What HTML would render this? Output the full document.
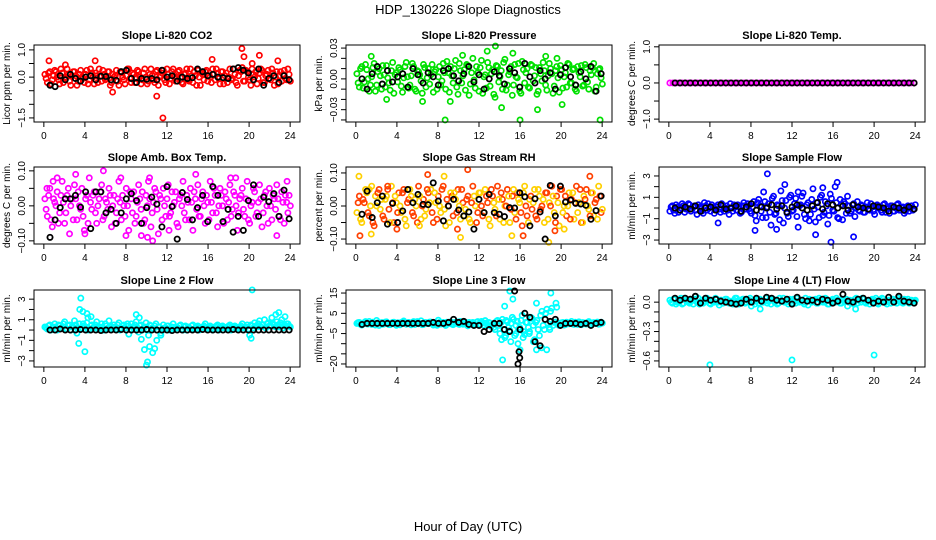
<!DOCTYPE html>
<html><head><meta charset="utf-8">
<style>
html,body{margin:0;padding:0;background:#fff;}
svg{display:block;font-family:"Liberation Sans",Arial,sans-serif;}
</style></head>
<body>
<svg id="chart" width="936" height="540" viewBox="0 0 936 540" xmlns="http://www.w3.org/2000/svg">
<text x="468" y="14" text-anchor="middle" font-size="13">HDP_130226  Slope Diagnostics</text>
<text x="468" y="531" text-anchor="middle" font-size="13">Hour of Day (UTC)</text>
</svg>
<script>
// ---------- data ----------
const co2Band=[0.1,-0.2,0.2,-0.1,0.25,0,-0.25,0.15,-0.05,0.3,-0.15,0.05,0.2,-0.3,0.1,0,-0.2,0.25,-0.1,0.15,-0.25,0.05,0.3,-0.15,0.1,-0.05,0.2,-0.2,0,0.25,-0.3,0.15,-0.1,0.05,0.3,-0.2,0.1,-0.05,0.2,-0.25,0.15,0,-0.15,0.3,-0.1,0.2,-0.3,0.05,0.25,-0.2,0.1,-0.05,0.3,-0.15,0.2,0,-0.25,0.15,-0.1,0.3,-0.2,0.05,0.25,-0.3,0.1,0.2,-0.15,0,0.3,-0.1,0.15,-0.25,0.2,0.05,-0.2,0.3,-0.05,0.1,-0.3,0.25,0.35,-0.15,0.2,-0.1,0.3,0,-0.25,0.15,0.25,-0.2,0.1,-0.05,0.3,-0.3,0.2,0.05,-0.15,0.25,-0.1,0.1];
const co2Band2=[-0.05,0.15,-0.25,0.05,0.2,-0.1,0.3,-0.2,0,0.1,-0.3,0.2,0.05,-0.15,0.25,-0.05,0.1,-0.25,0.3,0,0.15,-0.2,0.05,0.25,-0.1,0.2,-0.3,0.1,0.05,-0.15,0.2,0,-0.25,0.3,-0.05,0.15,-0.2,0.25,0,-0.1,0.3,-0.25,0.1,0.05,-0.2,0.25,0,0.15,-0.1,0.3,-0.25,0.2,0,-0.05,0.25,-0.2,0.1,0.3,-0.15,0.05,0.2,-0.3,0,0.15,-0.1,0.25,0.05,-0.2,0.1,0.3,-0.05,0.2,-0.25,0.15,0,-0.1,0.3,-0.2,0.05,0.2,-0.15,0.25,0,-0.3,0.1,0.2,-0.05,0.3,-0.2,0.05,0.25,-0.1,0.15,0,-0.25,0.2,0.1,-0.05,0.3,-0.15];
const co2OutHours=[0.5,5,11,11.6,16.4,19.3,19.5,21,22.8,6.7,2.1,20.3];
const co2OutValues=[0.6,0.6,-0.7,-1.5,0.65,1.05,0.75,0.8,0.6,-0.55,0.45,0.5];
const co2Black=[-0.3,-0.35,0.05,-0.1,0.1,-0.05,-0.15,0,0.05,-0.1,0.03,0.02,-0.1,-0.12,0.2,0.25,-0.05,-0.2,-0.05,-0.08,-0.05,-0.1,0.25,0,0.05,-0.15,0,-0.05,-0.02,0.3,0.2,0.05,0.1,0,-0.02,-0.05,0.3,0.35,0.25,0.15,-0.1,0.3,-0.3,-0.05,0.05,-0.2,0.05,-0.1];

const presBand=[0.005,-0.008,0.012,-0.003,0.009,-0.012,0.002,0.015,-0.006,0.01,-0.01,0.004,0.013,-0.004,0.008,-0.014,0.006,0.011,-0.007,0.001,0.016,-0.009,0.003,0.012,-0.012,0.007,-0.002,0.014,-0.008,0.01,0.004,-0.013,0.009,0.002,-0.006,0.015,-0.01,0.006,0.012,-0.004,0.018,-0.015,0.008,0.003,-0.011,0.013,-0.005,0.02,-0.009,0.006,0.011,-0.014,0.004,0.016,-0.007,0.009,-0.018,0.012,0.002,-0.01,0.019,-0.006,0.007,-0.016,0.014,0.001,-0.012,0.017,-0.004,0.01,-0.009,0.013,0.003,-0.015,0.011,-0.002,0.008,-0.011,0.015,0.005,-0.007,0.012,-0.013,0.009,0.002,-0.008,0.014,-0.004,0.01,-0.012,0.006,0.013,-0.006,0.011,-0.01,0.004,0.015,-0.008,0.009,0.001];
const presBand2=[-0.004,0.01,-0.009,0.014,0,-0.006,0.011,-0.012,0.007,0.003,0.013,-0.008,0.001,-0.011,0.016,0.004,-0.003,0.009,-0.013,0.012,0.002,-0.006,0.015,-0.01,0.008,0.004,-0.014,0.011,0.001,-0.005,0.014,0.007,-0.01,0.012,-0.002,0.006,0.017,-0.013,0.003,0.01,-0.008,0.015,-0.004,0.009,0.014,-0.016,0.006,-0.001,0.012,-0.012,0.018,0.002,-0.009,0.011,0.005,-0.015,0.013,-0.003,0.008,0.016,-0.011,0.004,0.012,-0.006,0.002,0.015,-0.014,0.009,0.006,-0.008,0.014,-0.002,0.011,-0.012,0.005,0.016,-0.006,0.003,0.01,-0.014,0.008,0.001,0.013,-0.009,0.006,0.015,-0.004,0.009,-0.01,0.012,0.002,-0.007,0.014,-0.003,0.008,0.011,-0.012,0.005,0.01,-0.005];
const presOutHours=[1.5,3,8.7,9.2,12.8,13.6,14.2,15.3,16,17.7,18.5,19.6,20.1,23.8,10.4,6.5];
const presOutValues=[0.022,-0.02,-0.04,-0.022,0.027,0.032,-0.028,0.025,-0.04,-0.03,0.022,0.02,-0.025,-0.04,0.023,-0.022];
const presBlack=[0,-0.01,0.005,0.012,-0.005,0.008,-0.003,0.002,0.005,-0.008,0.01,0.004,-0.004,0.006,0.002,-0.006,0.008,0.01,0.003,-0.002,0.005,0.012,-0.003,0.004,-0.01,0,0.007,0.003,-0.005,0.01,0.006,-0.008,0.015,0.002,-0.004,0.008,0,0.006,-0.01,0.004,0.011,0.002,-0.006,0.007,0,0.012,-0.012,0.005];

const tempBand=[0,0,0,0,0,0,0,0,0,0,0,0,0,0,0,0,0,0,0,0,0,0,0,0,0,0,0,0,0,0,0,0,0,0,0,0,0,0,0,0,0,0,0,0,0,0,0,0,0,0,0,0,0,0,0,0,0,0,0,0,0,0,0,0,0,0,0,0,0,0,0,0,0,0,0,0,0,0,0,0];
const tempBand2=[];
const tempOutHours=[];
const tempOutValues=[];
const tempBlack=[0,0,0,0,0,0,0,0,0,0,0,0,0,0,0,0,0,0,0,0,0,0,0,0,0,0,0,0,0,0,0,0,0,0,0,0,0,0,0,0,0,0,0,0,0,0,0,0];

const ambBand=[0.02,-0.03,0.05,-0.06,0.01,0.04,-0.02,0.07,-0.05,0.03,-0.08,0.02,0.06,-0.04,0.0,0.05,-0.07,0.03,0.08,-0.01,0.04,-0.05,0.02,0.06,-0.03,0.01,0.05,-0.06,0.03,-0.02,0.07,-0.04,0.0,0.05,-0.07,0.02,0.04,-0.03,0.06,-0.01,-0.05,0.03,0.07,-0.06,0.01,0.04,-0.08,0.02,0.05,-0.03,0.06,-0.02,0.0,0.04,-0.06,0.03,0.07,-0.04,0.01,0.05,-0.07,0.02,0.06,-0.03,0.04,-0.05,0.01,0.07,-0.02,0.03,-0.06,0.05,0.0,0.04,-0.04,0.06,-0.01,0.03,-0.07,0.02,0.05,-0.03,0.07,-0.05,0.01,0.04,-0.02,0.06,-0.06,0.03,0.0,0.05,-0.04,0.02,0.06,-0.03,0.04,-0.05,0.01,0.03];
const ambBand2=[-0.01,0.03,-0.04,0.02,0.0,-0.05,0.03,0.01,-0.02,0.05,0.0,-0.04,0.02,0.04,-0.01,-0.03,0.02,-0.05,0.01,0.03,-0.02,0.0,0.04,-0.04,0.02,-0.01,0.03,0.0,-0.05,0.02,0.01,0.03,-0.03,0.0,0.04,-0.02,-0.05,0.01,0.02,0.04,-0.04,0.0,0.02,-0.02,0.05,-0.01,0.03,-0.04,0.0,0.02,-0.03,0.04,0.01,-0.05,0.02,0.0,-0.02,0.03,-0.04,0.01,0.04,-0.01,-0.03,0.02,0.0,0.03,-0.04,0.01,0.05,-0.02,0.0,0.03,-0.05,0.02,0.01,-0.03,0.04,0.0,-0.02,0.03,-0.01,0.02,-0.04,0.0,0.05,-0.03,0.01,0.02,-0.02,0.04,-0.05,0.0,0.03,-0.01,0.02,-0.04,0.01,0.03,-0.02,0.0];
const ambOutHours=[0.3,1.3,3.1,5.8,7.5,8,9.5,10.3,10.6,12.2,14.8,18.7,22.7,0.9,4,10.1,18.2,23.7];
const ambOutValues=[0.05,0.08,0.09,0.1,0.08,-0.085,-0.085,0.08,-0.1,-0.07,0.09,0.08,-0.085,0.07,-0.08,-0.09,0.08,0.07];
const ambBlack=[-0.09,-0.04,-0.005,0.02,0.02,0.03,-0.004,0.04,-0.065,0.04,0.04,-0.02,-0.01,-0.05,-0.02,0.02,0.035,0.015,-0.05,-0.005,0.025,0.005,-0.06,0.055,-0.002,-0.095,0.038,0.018,-0.04,-0.005,0.03,-0.045,0.055,0.03,-0.045,-0.01,-0.075,-0.03,-0.07,0.015,0.06,-0.03,0.025,0.012,0.035,-0.03,0.045,-0.037];

const rhBand=[-0.02,0.03,-0.05,0.01,0.04,-0.03,0.06,-0.06,0.0,0.05,0.02,-0.04,0.03,-0.01,0.06,-0.05,0.01,0.04,-0.02,0.05,-0.06,0.02,0.03,-0.03,0.0,0.06,-0.04,0.02,-0.01,0.04,0.05,-0.05,0.01,0.03,-0.02,0.06,-0.06,0.0,0.04,-0.03,0.02,0.05,-0.04,0.01,-0.01,0.03,-0.05,0.06,0.0,-0.02,0.04,-0.03,0.05,0.01,-0.06,0.03,-0.01,0.06,-0.04,0.02,0.0,0.05,-0.05,0.03,-0.02,0.04,0.01,-0.06,0.06,-0.03,0.02,-0.01,0.05,-0.04,0.03,0.0,-0.05,0.04,0.01,0.06,-0.02,0.03,-0.06,0.05,0.0,-0.03,0.04,0.02,-0.04,0.06,0.01,-0.05,0.03,0.05,-0.01,0.04,-0.03,0.02,0.06,-0.02];
const rhBand2=[0.01,-0.04,0.02,0.05,-0.02,0.0,-0.05,0.03,0.04,-0.01,-0.03,0.02,0.05,-0.05,0.01,0.03,-0.02,0.0,0.04,-0.04,0.01,0.05,-0.02,0.02,-0.05,0.03,0.0,-0.03,0.05,0.01,-0.02,0.04,-0.04,0.0,0.05,-0.01,0.02,-0.05,0.03,0.04,-0.02,0.0,0.05,-0.03,0.02,-0.04,0.01,0.03,-0.05,0.04,0.0,-0.02,0.03,-0.04,0.05,0.01,-0.03,0.02,0.04,-0.05,0.0,0.03,-0.01,0.05,-0.04,0.02,-0.02,0.04,0.0,-0.05,0.03,0.01,-0.03,0.05,-0.01,0.02,0.04,-0.04,0.0,0.03,-0.05,0.01,0.05,-0.02,0.03,0.0,-0.04,0.04,0.01,-0.02,0.05,-0.05,0.02,0.0,-0.03,0.04,0.01,-0.04,0.03,-0.01];
const rhOutHours=[0.3,0.4,1.5,7,8.6,9.9,10.2,10.9,15.2,16.3,18.8,19.4,20.3,22.8,1.3,4,6.2,3.1];
const rhOutValues=[0.09,-0.09,-0.085,0.095,0.09,-0.07,-0.095,0.11,-0.09,-0.09,-0.11,-0.075,-0.07,0.09,0.05,-0.07,-0.06,0.06];
const rhBlack=[-0.025,0.045,-0.035,0.01,0.03,-0.055,0.008,-0.05,-0.015,0.05,0.01,0.035,0.005,0.004,0.07,0.015,-0.045,0,0.02,-0.012,-0.03,-0.018,-0.07,0.02,-0.02,0.035,-0.02,-0.025,-0.032,-0.005,-0.006,0.04,0.028,-0.06,0.022,-0.018,-0.1,0.062,-0.03,0.06,0.012,0.018,0.008,0.006,0.002,-0.04,-0.014,0.03];

const sfBand=[-0.3,0.2,-0.5,0.1,-0.2,0.4,-0.4,0,0.3,-0.1,0.2,-0.6,0.1,-0.3,0.5,-0.2,0,0.3,-0.5,0.1,-0.1,0.4,-0.3,0.2,-0.6,0,0.3,-0.2,0.1,-0.4,0.5,-0.1,0.2,-0.5,0.6,-1.2,0.8,-0.3,1.5,-0.9,0.4,-1.6,1.1,-0.5,0.2,1.6,-1.4,0.7,-0.8,1.2,-0.2,0.9,-1.8,0.3,1.4,-1,0.5,-0.6,1.8,-1.3,0.1,1,-0.7,0.6,-1.5,1.3,-0.2,2,-0.9,0.8,-1.1,0.4,1.1,-0.5,0.3,-0.8,0.6,-0.3,0.2,-0.4,0.5,-0.2,0.1,-0.6,0.3,0,-0.4,0.4,-0.1,-0.5,0.2,-0.3,0.3,-0.2,0,-0.5,0.1,-0.3,0.2,-0.1];
const sfBand2=[0.1,-0.2,0.3,-0.4,0,0.2,-0.1,0.4,-0.3,0.1,-0.2,0.3,0,-0.5,0.2,0.4,-0.3,0.1,-0.1,0.3,-0.4,0.2,0,-0.2,0.4,-0.3,0.1,0.3,-0.5,0.2,-0.1,0.4,-0.3,0.1,-0.7,0.5,0.2,-0.9,0.6,0.1,-0.4,0.9,-0.6,0.3,-1.1,0.7,0,-0.5,1,-0.3,0.4,-0.8,0.2,1.1,-0.6,0.3,-1.2,0.8,-0.1,0.5,-0.9,1.2,-0.4,0.2,-0.7,0.9,-0.3,0.5,-1,0.3,0.6,-0.5,0.2,-0.3,0.4,0,-0.2,0.3,-0.4,0.1,-0.1,0.4,-0.3,0.2,0,-0.2,0.3,-0.4,0.1,0.2,-0.3,0,0.4,-0.2,0.1,-0.3,0.2,0,-0.2,0.3];
const sfOutHours=[9.6,10.5,11.3,15,15.8,16.4,14.3,12.6,18,4.8,8.4];
const sfOutValues=[3.2,-2,2.2,1.9,-3.2,2.4,-2.5,1.5,-2.7,-1.4,-2.1];
const sfBlack=[0,-0.2,0.1,-0.1,0.2,-0.3,0,0.1,-0.2,0.3,-0.1,0,0.2,-0.3,0.1,0.4,-0.2,0.1,0,0.3,-0.1,0.2,-0.4,0.1,0.3,0,-0.2,0.2,0.5,-0.1,0.4,0.3,0,0.2,-0.2,0.3,0.1,0,-0.1,0.2,0.1,0,-0.3,0.1,0,-0.2,0.1,-0.1];

const l2Band=[0.3,0.1,0.5,0.2,0.6,0,0.4,0.2,0.8,0.1,0.5,0.3,0.9,-0.3,0.6,0.2,0.4,0.7,0.1,0.5,0.3,0.8,0.2,0.6,0,0.4,0.9,0.3,0.5,0.1,0.7,0.2,0.5,0.4,-0.4,0.6,0.3,0.8,-0.2,0.5,0.2,0.7,-0.5,0.4,0.1,0.6,0.3,-0.3,0.5,0.2,0.4,0.1,0.6,0.3,0.2,0.5,0,0.4,0.3,0.1,0.5,0.2,0.4,0.1,0.3,0.6,0.2,0.4,0,0.3,0.5,0.1,0.4,0.2,0.3,0.5,0.1,0.4,0.2,0.3,0.6,0.2,0.5,-0.5,0.4,0.7,0.3,0.9,0.5,1,0.6,0.4,1.2,0.5,0.8,0.3,1,0.5,0.6,0.4];
const l2Band2=[0.2,0.4,0,0.3,0.1,0.5,0.2,0.6,0.1,0.4,0,0.3,0.5,0.2,0.1,0.6,0.3,0,0.4,0.2,0.5,0.1,0.3,0,0.6,0.2,0.4,0.1,0.3,0.5,0,0.4,0.2,0.6,0.1,0.3,0.5,0.2,0.4,0,0.3,0.1,0.5,0.2,0.4,0,0.3,0.1,0.2,0.4,0,0.3,0.1,0.2,0.4,0.1,0.3,0,0.2,0.4,0.1,0.3,0,0.2,0.4,0.1,0.3,0.2,0.1,0.4,0,0.2,0.3,0.1,0.4,0,0.2,0.3,0.1,0.4,0.2,0.3,0.1,0.5,0.2,0.4,0.6,0.3,0.5,0.2,0.7,0.4,0.6,0.3,0.5,0.7,0.2,0.4,0.6,0.3];
const l2OutHours=[3.5,3.6,3.8,4,3.4,4.2,9,9.3,9.5,9.8,10.1,10,10.3,10.6,10.8,11,20.3,20.2,22.6,22.9,23.5,4.6,4.3,11.4];
const l2OutValues=[2,3.1,1.8,-2.1,-1.3,1.6,1.5,1.2,-0.9,-1.9,-3.1,-3.4,-1.6,-2.2,-1.8,-1,3.9,-0.8,1.5,1.7,1.3,1.3,1.2,-0.5];
const l2Black=[0,0,0.1,0,0,0,0.05,0,0,0,-0.05,0,0,0,0.05,0,0,0,0,0.05,0,0,0,0,-0.05,0,0,0,0,0,0.05,0,0,0,0,0,0.05,0,0,0,0,0,0,0,0,0,0,0];

const l3Band=[0,0.5,-0.8,0.3,-0.2,1,-0.5,0.2,1.5,-1,0.4,-0.3,0.8,-0.6,0.1,0.6,-0.9,0.3,0,1.2,-0.4,0.5,-0.7,0.9,0.2,-0.2,1.3,-0.5,0.4,-0.1,0.7,-0.8,0.3,1.6,-0.3,0.5,-1,0.2,0.8,-0.6,0.3,-0.2,1,-0.4,0.6,-1.2,0.1,0.5,-0.7,0.9,-0.3,0.4,1.4,-0.9,0.2,-0.5,-3,1.5,-5,2,-7,0.8,-3.5,3,-6,1,-2,4,-5.5,0.5,-4,2.5,-8,1.5,-6,6,-3,7,-2,7.5,0.5,8,-1,0.3,-0.8,0.6,-0.2,1,-0.5,0.2,0.8,-0.6,0.3,-0.3,0.9,-0.7,0.4,0,-0.4,0.6];
const l3Band2=[0.4,-0.5,0.2,0.9,-0.3,0.1,0.6,-0.8,0.3,0,-0.4,0.7,0.2,-0.6,0.5,-0.1,0.3,-0.7,0.8,0,0.2,-0.3,0.5,-0.5,0.9,0.1,-0.6,0.4,0,0.7,-0.2,0.3,-0.9,0.5,0.1,-0.4,0.6,0,-0.3,0.4,0.8,-0.5,0.2,0,-0.7,0.5,0.3,-0.2,0.6,-0.4,1,-0.8,0.2,0.5,-1.5,-2,1,-1,0.5,-3,1.5,-2,0,2,-1,-3,1.5,-4,0.5,-2,3,-1,0.5,-3,4,-1,5,0,6,-1,0.7,-0.4,0.2,0.5,-0.6,0.3,0,-0.3,0.6,-0.5,0.1,0.4,-0.2,0.5,-0.6,0.2,0,0.7,-0.3,0.2];
const l3OutHours=[14.3,14.6,15,15.3,15.6,14.5,15.8,16,16.3,17.3,17.6,18.1,18.6,19,18.9,19.5,14.2,15.1,16.9,17.6];
const l3OutValues=[-18,-6,16,12,-5,8.5,-10,-13,-7,-9,-13,-12,-13,15,-3,10,-8,-9,-5,10];
const l3Black=[-0.5,0,0,0,0,0,0,0,0,0,0,0,0,0,0.5,0,0,0.5,2,0.5,1,-0.5,-1,-1,-4,-3,0,0,-3,-4,16,-17,5,3,-9,-11,2,1,2,-1,0,0,0,-0.5,0,-1,0,0.5];
const l3BlackOutHours=[15.8,15.9,16];
const l3BlackOutValues=[-20,-14,-3];

const l4Band=[0.02,-0.01,0.03,0,0.01,-0.02,0.04,0.01,-0.01,0.02,0.03,0,-0.02,0.02,0.01,0.04,-0.01,0.02,0,0.03,-0.03,0.02,0.01,0.03,-0.01,0,0.02,0.04,-0.02,0.01,0.03,0,0.02,-0.04,0.01,0.03,-0.01,0.02,0,0.04,0.01,-0.02,0.03,0.02,-0.01,0.01,0.04,0,-0.02,0.02,0.03,-0.01,0.01,0.02,0,0.04,-0.03,0.02,0.01,0.03,-0.01,0.02,0,0.04,-0.02,0.01,0.03,0,0.02,-0.01,0.03,0.01,-0.04,0.02,0,0.03,-0.01,0.02,0.04,0,0.01,-0.02,0.03,0.02,-0.01,0.01,0.04,0,-0.02,0.02,0.03,0.01,-0.01,0.02,0,0.03,0.01,-0.01,0.02,0.01];
const l4Band2=[0,0.03,-0.02,0.01,0.04,-0.01,0.02,0,0.03,-0.02,0.01,0.04,0,-0.01,0.03,0.02,-0.02,0.01,0.04,0,0.02,-0.01,0.03,0,0.01,-0.02,0.04,0.01,0,0.03,-0.01,0.02,0.04,0,-0.02,0.02,0.03,0,0.01,-0.01,0.03,0.02,0,-0.02,0.04,0.01,0,0.02,0.03,-0.01,0.01,0.04,0,0.02,-0.02,0.01,0.03,0,0.02,-0.01,0.04,0.01,0,0.03,-0.02,0.02,0,0.04,0.01,-0.01,0.02,0.03,0,0.01,-0.02,0.04,0.02,0,0.03,-0.01,0.01,0.02,0,0.04,-0.02,0.01,0.03,0,0.02,-0.01,0.03,0.01,0.04,0,-0.01,0.02,0.03,0,0.01,0.02];
const l4OutHours=[4,12,20,8.9,2.6,18.2];
const l4OutValues=[-0.64,-0.59,-0.54,-0.07,0.06,-0.07];
const l4Black=[0.04,0.02,0.04,0.03,0.06,-0.01,0.04,0.02,0.03,0.01,0,-0.01,-0.02,-0.01,0.03,0,0.04,0.01,0.05,0.04,0.02,0.01,0.03,-0.02,0.05,0.02,0.01,0.02,0,0.03,0.02,-0.01,0.01,0.08,0.01,0,0.03,0.04,0.02,-0.01,0.01,0,0.05,0,0.06,0.01,0,-0.01];

const xTicks=[0,4,8,12,16,20,24];

// ---------- panel specs (layout/styling) ----------
const panels=[
 {name:'co2',title:'Slope Li-820 CO2',ylab:'Licor ppm per min.',col:0,row:0,y0:-1.65,y1:1.18,ticks:[-1.5,-1,-0.5,0,0.5,1],labs:['-1.5','','','0.0','','1.0'],bands:[co2Band,co2Band2],oh:co2OutHours,ov:co2OutValues,blk:co2Black,colors:['#ff0000']},
 {name:'pressure',title:'Slope Li-820 Pressure',ylab:'kPa per min.',col:1,row:0,y0:-0.042,y1:0.033,ticks:[-0.04,-0.03,-0.02,-0.01,0,0.01,0.02,0.03],labs:['','-0.03','','','0.00','','','0.03'],bands:[presBand,presBand2],oh:presOutHours,ov:presOutValues,blk:presBlack,colors:['#00e000']},
 {name:'temp',title:'Slope Li-820 Temp.',ylab:'degrees C per min.',col:2,row:0,y0:-1.08,y1:1.05,ticks:[-1,-0.5,0,0.5,1],labs:['-1.0','','0.0','','1.0'],bands:[tempBand,tempBand2],oh:tempOutHours,ov:tempOutValues,blk:tempBlack,colors:['#ff00ff']},
 {name:'amb-box-temp',title:'Slope Amb. Box Temp.',ylab:'degrees C per min.',col:0,row:1,y0:-0.109,y1:0.111,ticks:[-0.1,-0.05,0,0.05,0.1],labs:['-0.10','','0.00','','0.10'],bands:[ambBand,ambBand2],oh:ambOutHours,ov:ambOutValues,blk:ambBlack,colors:['#ff00ff']},
 {name:'gas-stream-rh',title:'Slope Gas Stream RH',ylab:'percent per min.',col:1,row:1,y0:-0.115,y1:0.118,ticks:[-0.1,-0.05,0,0.05,0.1],labs:['-0.10','','0.00','','0.10'],bands:[rhBand,rhBand2],oh:rhOutHours,ov:rhOutValues,blk:rhBlack,colors:['#ffd000','#ff4000']},
 {name:'sample-flow',title:'Slope Sample Flow',ylab:'ml/min per min.',col:2,row:1,y0:-3.37,y1:3.84,ticks:[-3,-2,-1,0,1,2,3],labs:['-3','','-1','','1','','3'],bands:[sfBand,sfBand2],oh:sfOutHours,ov:sfOutValues,blk:sfBlack,colors:['#0000ff']},
 {name:'line2-flow',title:'Slope Line 2 Flow',ylab:'ml/min per min.',col:0,row:2,y0:-3.59,y1:3.89,ticks:[-3,-2,-1,0,1,2,3],labs:['-3','','-1','','1','','3'],bands:[l2Band,l2Band2],oh:l2OutHours,ov:l2OutValues,blk:l2Black,colors:['#00ffff']},
 {name:'line3-flow',title:'Slope Line 3 Flow',ylab:'ml/min per min.',col:1,row:2,y0:-21.5,y1:16.5,ticks:[-20,-15,-10,-5,0,5,10,15],labs:['-20','','','-5','','5','','15'],bands:[l3Band,l3Band2],oh:l3OutHours,ov:l3OutValues,blk:l3Black,boh:l3BlackOutHours,bov:l3BlackOutValues,colors:['#00ffff']},
 {name:'line4-flow',title:'Slope Line 4 (LT) Flow',ylab:'ml/min per min.',col:2,row:2,y0:-0.662,y1:0.124,ticks:[-0.6,-0.5,-0.4,-0.3,-0.2,-0.1,0],labs:['-0.6','','','-0.3','','','0.0'],bands:[l4Band,l4Band2],oh:l4OutHours,ov:l4OutValues,blk:l4Black,colors:['#00ffff']}
];
const colLeft=[34,346,659], boxW=266;
const rowTop=[45,167,290], boxH=77;
const NS='http://www.w3.org/2000/svg';
const svg=document.getElementById('chart');
function mk(tag,attrs,parent){const e=document.createElementNS(NS,tag);for(const k in attrs)e.setAttribute(k,attrs[k]);parent.appendChild(e);return e;}

panels.forEach(p=>{
  const L=colLeft[p.col],T=rowTop[p.row],R=L+boxW,B=T+boxH;
  const xs=h=>L+(h+0.96)/25.92*boxW;
  const ys=v=>B-(v-p.y0)/(p.y1-p.y0)*boxH;
  const g=mk('g',{},svg);
  
  
  const t=mk('text',{x:(L+R)/2,y:T-6,'text-anchor':'middle','font-size':'11','font-weight':'bold'},g);
  t.textContent=p.title;
  
  
  const pts=mk('g',{fill:'none','stroke-width':'1.7'},g);
  
  
  p.bands.forEach((band,bi)=>{
    const n=band.length;
    band.forEach((v,i)=>{
      const h=n>1?0.1+(i+bi*0.5)*23.8/(n-1):0;
      const c=mk('circle',{cx:xs(h),cy:ys(v),r:2.6,stroke:p.colors[(i+bi)%p.colors.length]},pts);
      
      
    });
  });
  p.oh.forEach((h,i)=>{
    const c=mk('circle',{cx:xs(h),cy:ys(p.ov[i]),r:2.6,stroke:p.colors[i%p.colors.length]},pts);
    
    
  });
  const nb=p.blk.length;
  p.blk.forEach((v,i)=>{
    const h=0.6+i*23.3/(nb-1);
    const c=mk('circle',{cx:xs(h),cy:ys(v),r:2.6,stroke:'#000','stroke-width':'1.8'},pts);
    
    
  });
  (p.boh||[]).forEach((h,i)=>{
    const c=mk('circle',{cx:xs(h),cy:ys(p.bov[i]),r:2.6,stroke:'#000','stroke-width':'1.8'},pts);
    
    
  });
  const box=mk('rect',{x:L,y:T,width:boxW,height:boxH,fill:'none',stroke:'#000','stroke-width':'1'},g);
  
  
  const xa=mk('g',{stroke:'#000','stroke-width':'1'},g);
  
  
  mk('line',{x1:xs(0),x2:xs(24),y1:B,y2:B},xa);
  xTicks.forEach(h=>{
    mk('line',{x1:xs(h),x2:xs(h),y1:B,y2:B+5},xa);
    const tl=mk('text',{x:xs(h),y:B+17,'text-anchor':'middle','font-size':'10',stroke:'none',fill:'#000'},xa);
    tl.textContent=h;
    
    
  });
  const ya=mk('g',{stroke:'#000','stroke-width':'1'},g);
  
  
  mk('line',{x1:L,x2:L,y1:ys(p.ticks[0]),y2:ys(p.ticks[p.ticks.length-1])},ya);
  p.ticks.forEach((v,i)=>{
    mk('line',{x1:L-5,x2:L,y1:ys(v),y2:ys(v)},ya);
    if(p.labs[i]){
      const tx=L-9,ty=ys(v);
      const tl=mk('text',{x:tx,y:ty,'text-anchor':'middle','font-size':'10',stroke:'none',fill:'#000',transform:'rotate(-90 '+tx+' '+ty+')'},ya);
      tl.textContent=p.labs[i].replace('-','\u2212');
      
      
    }
  });
  const yx=L-24,yy=(T+B)/2;
  const yl=mk('text',{x:yx,y:yy,'text-anchor':'middle','font-size':'10',transform:'rotate(-90 '+yx+' '+yy+')'},g);
  yl.textContent=p.ylab;
  
  
});
</script>
</body></html>
